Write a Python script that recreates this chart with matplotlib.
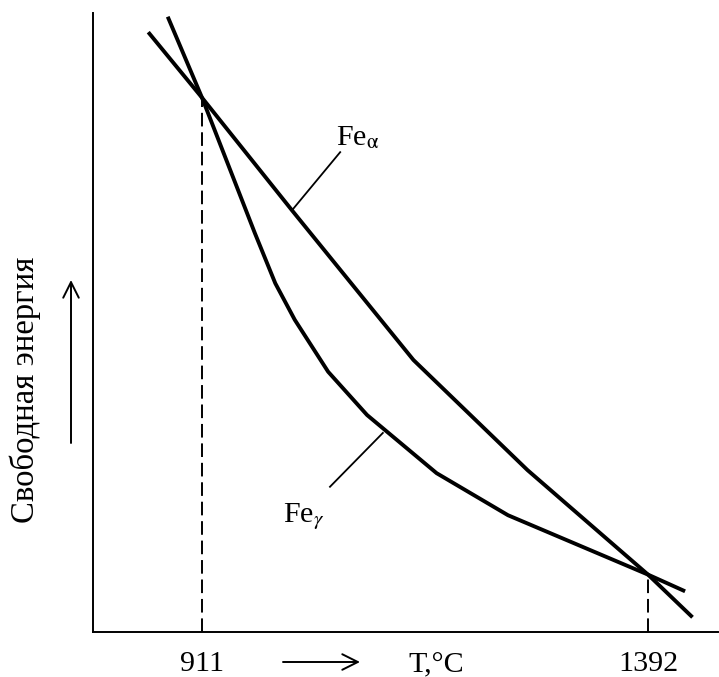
import numpy as np
import matplotlib
matplotlib.use("Agg")
import matplotlib.pyplot as plt

plt.rcParams['font.family'] = ['Liberation Serif', 'DejaVu Serif']
plt.rcParams['mathtext.fontset'] = 'stix'

# Кривые свободной энергии (T в °C, G в условных единицах)
T_alpha = [853, 911, 1008, 1139, 1262, 1392, 1440]
G_alpha = [96.9, 86.3, 68.1, 43.9, 26.1, 9.2, 2.3]

T_gamma = [874, 911, 968, 990, 1011, 1047, 1089, 1164, 1241, 1392, 1432]
G_gamma = [99.4, 86.3, 64.4, 56.3, 50.4, 42.0, 35.0, 25.6, 18.8, 9.2, 6.5]

# Точки превращения
T_marks = [911, 1392]
G_marks = [86.3, 9.2]
tick_labels = ["911", "1392"]

W, H = 719, 677
fig = plt.figure(figsize=(W / 100, H / 100), dpi=100)
ax = fig.add_axes([93 / W, (H - 631.5) / H, (718 - 93) / W, (631.5 - 13) / H])

ax.set_xlim(793.4, 1467.5)
ax.set_ylim(0, 100)

ax.plot(T_alpha, G_alpha, color="black", lw=2.8, solid_capstyle="butt")
ax.plot(T_gamma, G_gamma, color="black", lw=2.8, solid_capstyle="butt")

# пунктирные вертикали
for t, g in zip(T_marks, G_marks):
    ax.plot([t, t], [0, g], color="black", lw=1.4, dashes=(7, 3))

# выноски
ax.plot([1008, 1060], [68.1, 77.5], color="black", lw=1.3)
ax.plot([1106, 1049], [32.1, 23.4], color="black", lw=1.3)
ax.text(1056, 78.7, r"Fe$_{\mathrm{\alpha}}$", fontsize=21.6, ha="left", va="baseline")
ax.text(998, 17.7, r"Fe$_{\gamma}$", fontsize=21.6, ha="left", va="baseline")

for side in ["top", "right"]:
    ax.spines[side].set_visible(False)
for side in ["left", "bottom"]:
    ax.spines[side].set_linewidth(1.4)

ax.set_yticks([])
ax.set_xticks(T_marks)
ax.set_xticklabels(tick_labels, fontsize=21.6)
ax.tick_params(axis="x", length=0, pad=14)

# подписи осей
fig.text(436 / W, (H - 672) / H, "T,°C", fontsize=21.6, ha="center", va="baseline")
fig.text(25 / W, 1 - 390 / H, "Свободная энергия", fontsize=23.6,
         rotation=90, ha="center", va="center")

arrow = dict(arrowstyle="->", lw=1.4, color="black", mutation_scale=28,
             shrinkA=0, shrinkB=0)
ax.annotate("", xy=(360, H - 662), xytext=(283, H - 662),
            xycoords="figure pixels", textcoords="figure pixels",
            arrowprops=arrow, annotation_clip=False)
ax.annotate("", xy=(71, H - 280), xytext=(71, H - 443),
            xycoords="figure pixels", textcoords="figure pixels",
            arrowprops=arrow, annotation_clip=False)

fig.savefig("out.png", dpi=100)
